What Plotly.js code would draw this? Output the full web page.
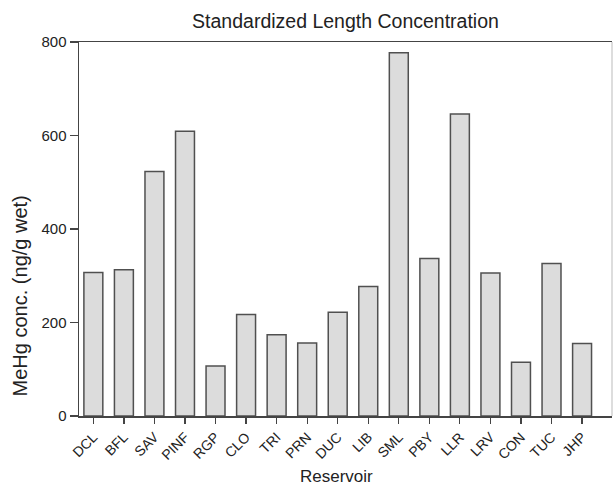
<!DOCTYPE html>
<html>
<head>
<meta charset="utf-8">
<script src="https://cdn.plot.ly/plotly-3.0.1.min.js"></script>
<style>html,body{margin:0;padding:0;background:#fff;}#chart{width:613px;height:487px;}</style>
</head>
<body>
<div id="chart"></div>
<script>
const reservoirs = ["DCL","BFL","SAV","PINF","RGP","CLO","TRI","PRN","DUC","LIB","SML","PBY","LLR","LRV","CON","TUC","JHP"];
const mehgConc = [307, 313, 523, 609, 107, 217, 174, 156, 222, 277, 777, 337, 646, 306, 115, 326, 155];
const yTicks = [0, 200, 400, 600, 800];
const chartTitle = "Standardized Length Concentration";
const xTitle = "Reservoir";
const yTitle = "MeHg conc. (ng/g wet)";

const FONT = "Liberation Sans, Arial, sans-serif";

const trace = {
  type: "bar",
  x: reservoirs.map((_, i) => i),
  y: mehgConc,
  width: 0.62,
  marker: { color: "#dcdcdc", line: { color: "#505050", width: 1.5 } },
  hoverinfo: "x+y"
};

const layout = {
  width: 613, height: 487,
  margin: { l: 79, r: 1, t: 42, b: 71, pad: 0 },
  paper_bgcolor: "#ffffff", plot_bgcolor: "#ffffff",
  font: { family: FONT, color: "#222" },
  showlegend: false,
  title: { text: chartTitle, font: { size: 19.5, family: FONT, color: "#222" },
           x: 0.5, xref: "paper", y: 1 - 21/487, yref: "container", yanchor: "middle" },
  xaxis: {
    range: [-0.47, 16.98],
    tickmode: "array",
    tickvals: reservoirs.map((_, i) => i),
    ticktext: reservoirs,
    tickangle: -45,
    ticks: "outside", ticklen: 6, tickwidth: 1.2, tickcolor: "#444",
    tickfont: { size: 14, family: FONT, color: "#222" },
    showline: true, linecolor: "#444", linewidth: 1.5, mirror: true,
    showgrid: false, zeroline: false
  },
  yaxis: {
    range: [0, 800],
    tickmode: "array", tickvals: yTicks, ticktext: yTicks.map(String),
    ticks: "outside", ticklen: 8, tickwidth: 1.2, tickcolor: "#444",
    tickfont: { size: 15, family: FONT, color: "#222" },
    showline: true, linecolor: "#444", linewidth: 1.5, mirror: false,
    showgrid: false, zeroline: false
  },
  annotations: [
    { text: xTitle, xref: "paper", yref: "paper", x: 0.484, y: -0.161,
      xanchor: "center", yanchor: "middle", showarrow: false,
      font: { size: 17, family: FONT, color: "#222" } },
    { text: yTitle, xref: "paper", yref: "paper", x: -0.111, y: 0.322, textangle: -90,
      xanchor: "center", yanchor: "middle", showarrow: false,
      font: { size: 20, family: FONT, color: "#222" } }
  ],
  shapes: [{ type: "line", xref: "paper", yref: "paper", x0: 1, x1: 1, y0: 0, y1: 1,
             line: { color: "#bbbbbb", width: 1 } }]
};

Plotly.newPlot("chart", [trace], layout, { displayModeBar: false, staticPlot: true });
</script>
</body>
</html>
